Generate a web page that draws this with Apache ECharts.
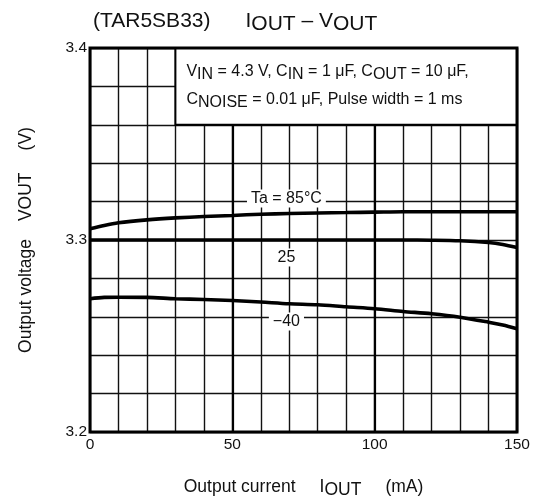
<!DOCTYPE html>
<html>
<head>
<meta charset="utf-8">
<script src="https://cdn.jsdelivr.net/npm/echarts@6/dist/echarts.min.js"></script>
<style>html,body{margin:0;padding:0;background:#fff}#c{width:537px;height:504px}</style>
</head>
<body>
<div id="c"></div>
<script>
const currents = [0, 5, 10, 20, 30, 40, 50, 60, 70, 80, 90, 100, 110, 120, 130, 140, 145, 150];
const v85 = [3.3058, 3.3076, 3.3090, 3.3105, 3.3115, 3.3122, 3.3128, 3.3134, 3.3138, 3.3141, 3.3143, 3.3145, 3.3147, 3.3147, 3.3147, 3.3147, 3.3147, 3.3147];
const v25 = [3.3000, 3.3000, 3.3000, 3.3000, 3.3000, 3.3000, 3.3000, 3.3000, 3.3000, 3.3000, 3.3000, 3.3000, 3.3000, 3.2999, 3.2996, 3.2987, 3.2977, 3.2961];
const v40 = [3.2694, 3.2701, 3.2702, 3.2701, 3.2694, 3.2690, 3.2685, 3.2677, 3.2668, 3.2663, 3.2652, 3.2642, 3.2628, 3.2616, 3.2598, 3.2572, 3.2557, 3.2538];
const curveLabels = ['Ta = 85°C', '25', '\u221240'];
const labelPos = [[69, 3.3216], [69, 3.2909], [69, 3.2576]];
const xTicks = [0, 50, 100, 150];
const yTicks = [3.2, 3.3, 3.4];
const boxArea = [[30, 3.36], [150, 3.4]];

const FONT = 'Liberation Sans, Arial, sans-serif';
const INK = '#111';
const chart = echarts.init(document.getElementById('c'), null, {renderer: 'canvas'});

function mk(vals) { return currents.map((c, i) => [c, vals[i]]); }
const seriesVals = [v85, v25, v40];

const series = seriesVals.map((vals, k) => ({
  type: 'line',
  data: mk(vals),
  smooth: 0.3,
  showSymbol: false,
  symbol: 'none',
  silent: true,
  z: 5,
  lineStyle: {color: '#000', width: 3.6},
  markPoint: {
    symbol: 'rect', symbolSize: 0, silent: true,
    data: [{coord: labelPos[k]}],
    label: {
      show: true, position: 'inside', formatter: curveLabels[k],
      color: INK, fontSize: 16, fontFamily: FONT,
      backgroundColor: '#fff', padding: [1, 4, 1, 4]
    }
  }
}));

// thicker gridlines at 50 and 100
series.push({
  type: 'line', data: [], silent: true, z: 2,
  markLine: {
    z: 2,
    symbol: 'none', silent: true, label: {show: false},
    lineStyle: {color: '#000', width: 2.2, type: 'solid'},
    data: [{xAxis: 50}, {xAxis: 100}]
  }
});
// annotation box
series.push({
  type: 'line', data: [], silent: true, z: 6,
  markArea: {
    z: 6,
    silent: true,
    itemStyle: {color: '#fff', borderColor: '#000', borderWidth: 2},
    label: {
      show: true, position: [12, 11],
      fontFamily: FONT, fontSize: 16, color: INK, lineHeight: 28,
      formatter: 'V{s|IN} = 4.3 V, C{s|IN} = 1 \u03bcF, C{s|OUT} = 10 \u03bcF,\nC{s|NOISE} = 0.01 \u03bcF, Pulse width = 1 ms',
      rich: {s: {fontSize: 16, fontFamily: FONT, color: INK, padding: [5, 0, 0, 0], lineHeight: 28}}
    },
    data: [[{coord: boxArea[0]}, {coord: boxArea[1]}]]
  }
});

chart.setOption({
  animation: false,
  backgroundColor: '#fff',
  textStyle: {fontFamily: FONT},
  title: {
    text: '(TAR5SB33){g|}I{s|OUT} \u2013 V{s|OUT}',
    left: 88, top: 2,
    textStyle: {
      fontFamily: FONT, fontSize: 21, fontWeight: 'normal', color: INK,
      rich: {
        s: {fontFamily: FONT, fontSize: 21, color: INK, padding: [7, 0, 0, 0]},
        g: {width: 35}
      }
    }
  },
  grid: {left: 90, right: 20, top: 48, bottom: 72, show: true, borderColor: '#000', borderWidth: 3, backgroundColor: 'transparent', z: 10},
  xAxis: {
    type: 'value', min: 0, max: 150, interval: 10,
    axisLine: {show: false}, axisTick: {show: false},
    splitLine: {show: true, lineStyle: {color: INK, width: 1.4}},
    axisLabel: {
      fontFamily: FONT, fontSize: 15.5, color: INK, margin: 5,
      formatter: v => xTicks.includes(v) ? String(v) : ''
    },
    name: 'Output current{g|}I{s|OUT}{g|}(mA)',
    nameLocation: 'middle', nameGap: 43,
    nameTextStyle: {fontFamily: FONT, fontSize: 17.5, color: INK,
      rich: {
        s: {fontFamily: FONT, fontSize: 17.5, color: INK, padding: [6, 0, 0, 0]},
        g: {width: 24}
      }}
  },
  yAxis: {
    type: 'value', min: 3.2, max: 3.4, interval: 0.02,
    axisLine: {show: false}, axisTick: {show: false},
    splitLine: {show: true, lineStyle: {color: INK, width: 1.4}},
    axisLabel: {
      fontFamily: FONT, fontSize: 15.5, color: INK, margin: 3,
      formatter: v => {
        const r = Math.round(v * 100) / 100;
        return yTicks.some(t => Math.abs(t - r) < 1e-6) ? r.toFixed(1) : '';
      }
    },
    name: 'Output voltage{g|}VOUT{h|}(V)',
    nameLocation: 'middle', nameGap: 55, nameRotate: 90,
    nameTextStyle: {fontFamily: FONT, fontSize: 17.5, color: INK,
      rich: {g: {width: 18}, h: {width: 22}}}
  },
  series: series
});
</script>
</body>
</html>
